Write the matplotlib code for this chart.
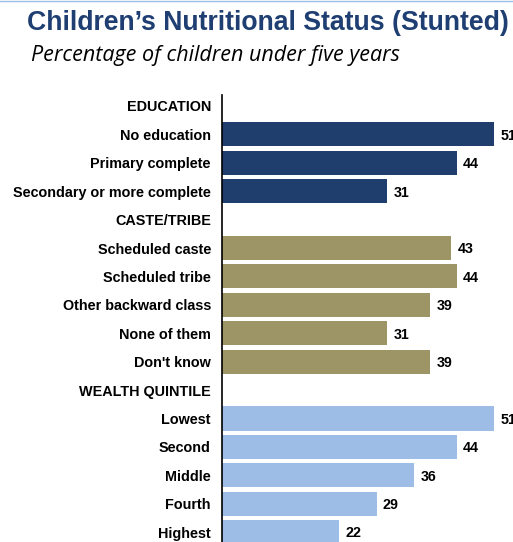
import matplotlib
matplotlib.use('Agg')
import matplotlib.pyplot as plt
from matplotlib.lines import Line2D

# data
education = ['No education', 'Primary complete', 'Secondary or more complete']
education_vals = [51, 44, 31]
caste = ['Scheduled caste', 'Scheduled tribe', 'Other backward class',
         'None of them', "Don't know"]
caste_vals = [43, 44, 39, 31, 39]
wealth = ['Lowest', 'Second', 'Middle', 'Fourth', 'Highest']
wealth_vals = [51, 44, 36, 29, 22]

groups = [
    ('EDUCATION', education, education_vals, '#1F3E6E'),
    ('CASTE/TRIBE', caste, caste_vals, '#9D9566'),
    ('WEALTH QUINTILE', wealth, wealth_vals, '#9DBDE6'),
]

plt.rcParams['font.family'] = ['Liberation Sans', 'DejaVu Sans']

fig = plt.figure(figsize=(5.13, 5.42), dpi=100)
ax = fig.add_axes([222 / 513, 0, 291 / 513, 447 / 542])

labels = []
row = 0
for header, cats, vals, color in groups:
    labels.append(header)
    row += 1
    for cat, v in zip(cats, vals):
        ax.barh(row, v, height=0.85, color=color)
        ax.text(v + 1.2, row + 0.05, str(v), va='center', ha='left',
                fontsize=10.3, fontweight='bold', color='black', clip_on=False)
        labels.append(cat)
        row += 1

ax.set_yticks(range(len(labels)))
ax.set_yticklabels(labels, fontsize=10.4, fontweight='bold')
ax.tick_params(axis='y', length=0, pad=8)
ax.set_ylim(15.35, -0.387)
ax.set_xlim(0, 54.6)
ax.set_xticks([])
for s in ('top', 'right', 'bottom'):
    ax.spines[s].set_visible(False)
ax.spines['left'].set_linewidth(1.2)
ax.spines['left'].set_color('black')

fig.text(27 / 513, 1 - 23 / 542, 'Children\u2019s Nutritional Status (Stunted)',
         fontsize=19.2, fontweight='bold', color='#1F3F73', va='center', ha='left')
fig.text(31 / 513, 1 - 55 / 542, 'Percentage of children under five years',
         fontsize=15.5, style='italic', color='black', va='center', ha='left',
         family=['Open Sans', 'DejaVu Sans'])

# thin rule at the very top
fig.add_artist(Line2D([0, 1], [0.999, 0.999], color='#9DBDE6', lw=1,
                      transform=fig.transFigure))

fig.savefig('out.png', dpi=100)
